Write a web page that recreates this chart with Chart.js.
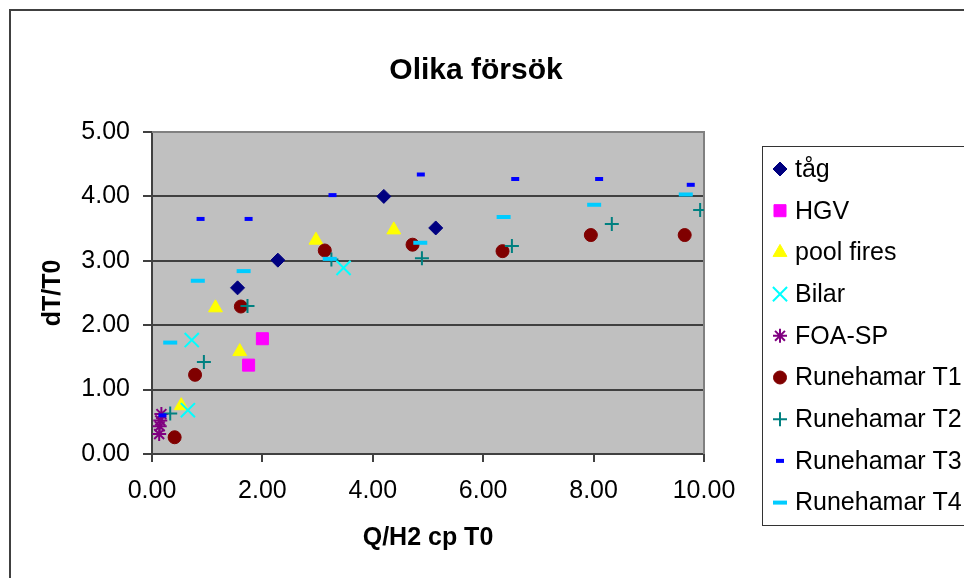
<!DOCTYPE html>
<html>
<head>
<meta charset="utf-8">
<script src="https://cdn.jsdelivr.net/npm/chart.js@4/dist/chart.umd.min.js"></script>
<style>
  html, body { margin: 0; padding: 0; background: #fff; overflow: hidden; }
  #wrap { position: relative; width: 964px; height: 578px; }
</style>
</head>
<body>
<div id="wrap"><canvas id="chart"></canvas></div>
<script>
// measured series (x = Q/H2 cp T0, y = dT/T0)
const tagX = [1.55, 2.28, 4.20, 5.14];
const tagY = [2.58, 3.01, 4.00, 3.51];

const hgvX = [1.75, 2.00];
const hgvY = [1.38, 1.79];

const poolX = [0.53, 1.15, 1.59, 2.97, 4.38];
const poolY = [0.75, 2.27, 1.59, 3.32, 3.48];

const bilarX = [0.65, 0.72, 3.47];
const bilarY = [0.68, 1.77, 2.89];

const foaX = [0.17, 0.15, 0.14, 0.13];
const foaY = [0.62, 0.52, 0.43, 0.31];

const t1X = [0.41, 0.78, 1.61, 3.13, 4.72, 6.35, 7.95, 9.65];
const t1Y = [0.26, 1.23, 2.29, 3.16, 3.25, 3.15, 3.40, 3.40];

const t2X = [0.33, 0.94, 1.73, 3.25, 4.89, 6.52, 8.33, 9.93];
const t2Y = [0.63, 1.43, 2.30, 3.02, 3.04, 3.23, 3.57, 3.79];

const t3X = [0.19, 0.88, 1.75, 3.27, 4.87, 6.58, 8.10, 9.76];
const t3Y = [0.60, 3.65, 3.65, 4.02, 4.34, 4.27, 4.27, 4.18];

const t4X = [0.33, 0.83, 1.66, 3.22, 4.86, 6.37, 8.01, 9.67];
const t4Y = [1.73, 2.69, 2.84, 3.03, 3.28, 3.68, 3.87, 4.03];

const xTicks = [0, 2, 4, 6, 8, 10];
const yTicks = [0, 1, 2, 3, 4, 5];

const FONT = "'Liberation Sans', Arial, sans-serif";

function pts(xs, ys) {
  return xs.map((x, i) => ({ x: x, y: ys[i] }));
}

// one entry per series: label, data, marker
const series = [
  { label: 'tåg',          data: pts(tagX, tagY),     style: 'rectRot',  r: 7,   fill: '#000080', line: '#000080', w: 1 },
  { label: 'HGV',          data: pts(hgvX, hgvY),     style: 'rect',     r: 8.5, fill: '#FF00FF', line: '#FF00FF', w: 1 },
  { label: 'pool fires',   data: pts(poolX, poolY),   style: 'triangle', r: 8,   fill: '#FFFF00', line: '#FFFF00', w: 1 },
  { label: 'Bilar',        data: pts(bilarX, bilarY), style: 'crossRot', r: 10,  fill: '#00FFFF', line: '#00FFFF', w: 2 },
  { label: 'FOA-SP',       data: pts(foaX, foaY),     style: 'star',     r: 7,   fill: '#800080', line: '#800080', w: 2 },
  { label: 'Runehamar T1', data: pts(t1X, t1Y),       style: 'circle',   r: 6.5, fill: '#800000', line: '#800000', w: 1 },
  { label: 'Runehamar T2', data: pts(t2X, t2Y),       style: 'cross',    r: 7,   fill: '#008080', line: '#008080', w: 2 },
  { label: 'Runehamar T3', data: pts(t3X, t3Y),       style: 'line',     r: 4,   fill: '#0000FF', line: '#0000FF', w: 4 },
  { label: 'Runehamar T4', data: pts(t4X, t4Y),       style: 'line',     r: 7,   fill: '#00CCFF', line: '#00CCFF', w: 4 }
];

const datasets = series.map((s, i) => ({
  label: s.label,
  data: s.data,
  order: series.length - 1 - i,
  pointStyle: s.style,
  pointRadius: s.r,
  pointHoverRadius: s.r,
  pointBackgroundColor: s.fill,
  pointBorderColor: s.line,
  pointBorderWidth: s.w,
  backgroundColor: s.fill,
  borderColor: s.line
}));

// grey plot area, chart frame and the boxed legend on the right
const framePlugin = {
  id: 'frame',
  beforeDraw(chart) {
    const { ctx, chartArea: a } = chart;
    ctx.save();
    ctx.fillStyle = '#fff';
    ctx.fillRect(0, 0, chart.width, chart.height);
    ctx.fillStyle = '#C0C0C0';
    ctx.fillRect(a.left, a.top, a.right - a.left, a.bottom - a.top);
    ctx.strokeStyle = '#404040';
    ctx.lineWidth = 2;
    ctx.strokeRect(10, 10, 1200, 1200);
    ctx.restore();
  },
  beforeDatasetsDraw(chart) {
    const { ctx, chartArea: a } = chart;
    ctx.save();
    ctx.strokeStyle = '#808080';
    ctx.lineWidth = 2;
    ctx.beginPath();
    ctx.moveTo(a.left, a.top);
    ctx.lineTo(a.right, a.top);
    ctx.lineTo(a.right, a.bottom);
    ctx.stroke();
    ctx.restore();
  },
  afterDraw(chart) {
    const { ctx } = chart;
    const box = { left: 762.5, top: 146.5, bottom: 525.5 };
    ctx.save();
    ctx.fillStyle = '#fff';
    ctx.fillRect(box.left, box.top, 400, box.bottom - box.top);
    ctx.strokeStyle = '#333';
    ctx.lineWidth = 1;
    ctx.strokeRect(box.left, box.top, 400, box.bottom - box.top);
    ctx.font = '25px ' + FONT;
    ctx.textBaseline = 'middle';
    ctx.textAlign = 'left';
    series.forEach((s, i) => {
      const y = 169 + i * 41.7;
      ctx.fillStyle = s.fill;
      ctx.strokeStyle = s.line;
      ctx.lineWidth = s.w;
      Chart.helpers.drawPoint(ctx, { pointStyle: s.style, radius: s.r, rotation: 0, borderWidth: s.w }, 780, y);
      ctx.fillStyle = '#000';
      ctx.fillText(s.label, 795, y + 1);
    });
    ctx.restore();
  }
};

new Chart(document.getElementById('chart'), {
  type: 'scatter',
  data: { datasets: datasets },
  plugins: [framePlugin],
  options: {
    responsive: true,
    maintainAspectRatio: false,
    animation: false,
    events: [],
    layout: { padding: { left: 10, right: 22, top: 0, bottom: 0 } },
    plugins: {
      legend: { display: false },
      tooltip: { enabled: false },
      title: {
        display: true,
        text: 'Olika försök',
        color: '#000',
        font: { family: FONT, size: 30, weight: 'bold' },
        padding: { top: 53, bottom: 43 }
      }
    },
    scales: {
      x: {
        type: 'linear',
        min: 0,
        max: 10,
        afterBuildTicks: s => { s.ticks = xTicks.map(v => ({ value: v })); },
        afterFit: s => { s.height = 124; },
        grid: { drawOnChartArea: false, drawTicks: true, tickLength: 8, color: '#404040', lineWidth: 2 },
        border: { color: '#404040', width: 2 },
        ticks: {
          color: '#000',
          font: { family: FONT, size: 25 },
          padding: 14,
          maxRotation: 0,
          callback: v => v.toFixed(2)
        },
        title: {
          display: true,
          text: 'Q/H2 cp T0',
          color: '#000',
          font: { family: FONT, size: 25, weight: 'bold' },
          padding: 25
        }
      },
      y: {
        type: 'linear',
        min: 0,
        max: 5,
        afterBuildTicks: s => { s.ticks = yTicks.map(v => ({ value: v })); },
        afterFit: s => { s.width = 142; },
        grid: { color: '#404040', lineWidth: 2, tickLength: 9 },
        border: { color: '#404040', width: 2 },
        ticks: {
          color: '#000',
          font: { family: FONT, size: 25 },
          padding: 13,
          callback: v => v.toFixed(2)
        },
        title: {
          display: true,
          text: 'dT/T0',
          color: '#000',
          font: { family: FONT, size: 25, weight: 'bold' },
          padding: 28
        }
      },
      // keeps the right side of the canvas free for the legend box
      spacer: {
        type: 'linear',
        position: 'right',
        display: true,
        afterFit: s => { s.width = 238; },
        grid: { display: false },
        border: { display: false },
        ticks: { display: false }
      }
    }
  }
});
</script>
</body>
</html>
